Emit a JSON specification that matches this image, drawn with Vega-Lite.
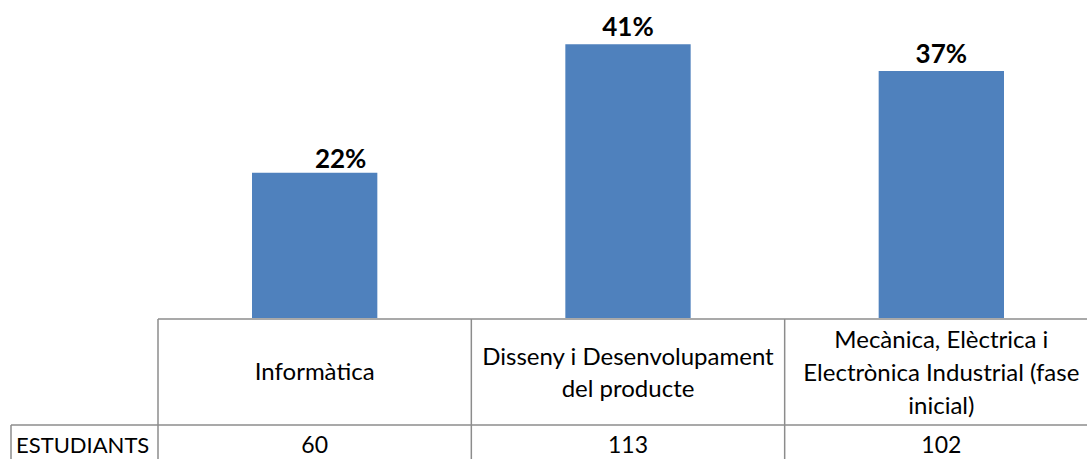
{
  "$schema": "https://vega.github.io/schema/vega-lite/v6.json",
  "width": 1087,
  "height": 459,
  "autosize": {"type": "none"},
  "padding": 0,
  "background": "white",
  "config": {"view": {"stroke": null}, "font": "Lato"},
  "data": {"values": [
    {"cat": "Informàtica", "label": "Informàtica", "pct": 0.2182, "students": 60},
    {"cat": "Disseny", "label": "Disseny i Desenvolupament\ndel producte", "pct": 0.4109, "students": 113},
    {"cat": "Mecànica", "label": "Mecànica, Elèctrica i\nElectrònica Industrial (fase\ninicial)", "pct": 0.3709, "students": 102}
  ]},
  "layer": [
    {
      "mark": {"type": "bar", "color": "#4F81BD", "width": {"band": 0.4}},
      "encoding": {
        "x": {"field": "cat", "type": "nominal", "sort": null, "scale": {"range": [158, 1098], "paddingInner": 0, "paddingOuter": 0}, "axis": null},
        "y": {"field": "pct", "type": "quantitative", "scale": {"domain": [0, 0.45], "range": [318, 18.3]}, "axis": null}
      }
    },
    {
      "transform": [{"filter": "datum.cat !== 'Informàtica'"}],
      "mark": {"type": "text", "fontWeight": "bold", "fontSize": 26, "baseline": "alphabetic", "dy": -8, "color": "black"},
      "encoding": {
        "x": {"field": "cat", "type": "nominal", "sort": null},
        "y": {"field": "pct", "type": "quantitative"},
        "text": {"field": "pct", "type": "quantitative", "format": ".0%"}
      }
    },
    {
      "transform": [{"filter": "datum.cat === 'Informàtica'"}],
      "mark": {"type": "text", "fontWeight": "bold", "fontSize": 26, "baseline": "alphabetic", "dy": -5, "dx": 26, "color": "black"},
      "encoding": {
        "x": {"field": "cat", "type": "nominal", "sort": null},
        "y": {"field": "pct", "type": "quantitative"},
        "text": {"field": "pct", "type": "quantitative", "format": ".0%"}
      }
    },
    {
      "mark": {"type": "rule", "color": "#8c8c8c", "strokeWidth": 1.5},
      "encoding": {
        "x": {"field": "cat", "type": "nominal", "sort": null, "bandPosition": 0},
        "y": {"value": 319},
        "y2": {"value": 460}
      }
    },
    {
      "data": {"values": [{"row": "top"}]},
      "mark": {"type": "rule", "color": "#8c8c8c", "strokeWidth": 1.5},
      "encoding": {"x": {"value": 158}, "x2": {"value": 1087}, "y": {"value": 319}}
    },
    {
      "data": {"values": [{"row": "mid"}]},
      "mark": {"type": "rule", "color": "#8c8c8c", "strokeWidth": 1.5},
      "encoding": {"x": {"value": 11}, "x2": {"value": 1087}, "y": {"value": 425}}
    },
    {
      "data": {"values": [{"row": "left"}]},
      "mark": {"type": "rule", "color": "#8c8c8c", "strokeWidth": 1.5},
      "encoding": {"x": {"value": 11}, "y": {"value": 425}, "y2": {"value": 460}}
    },
    {
      "transform": [{"filter": "datum.cat === 'Informàtica'"}],
      "mark": {"type": "text", "fontSize": 24, "baseline": "alphabetic", "lineBreak": "\n", "lineHeight": 32, "color": "black"},
      "encoding": {
        "x": {"field": "cat", "type": "nominal", "sort": null},
        "y": {"value": 380},
        "text": {"field": "label"}
      }
    },
    {
      "transform": [{"filter": "datum.cat === 'Disseny'"}],
      "mark": {"type": "text", "fontSize": 24, "baseline": "alphabetic", "lineBreak": "\n", "lineHeight": 32, "color": "black"},
      "encoding": {
        "x": {"field": "cat", "type": "nominal", "sort": null},
        "y": {"value": 365},
        "text": {"field": "label"}
      }
    },
    {
      "transform": [{"filter": "datum.cat === 'Mecànica'"}],
      "mark": {"type": "text", "fontSize": 24, "baseline": "alphabetic", "lineBreak": "\n", "lineHeight": 33, "color": "black"},
      "encoding": {
        "x": {"field": "cat", "type": "nominal", "sort": null},
        "y": {"value": 348},
        "text": {"field": "label"}
      }
    },
    {
      "mark": {"type": "text", "fontSize": 23, "baseline": "alphabetic", "color": "black"},
      "encoding": {
        "x": {"field": "cat", "type": "nominal", "sort": null},
        "y": {"value": 453},
        "text": {"field": "students", "type": "quantitative"}
      }
    },
    {
      "data": {"values": [{"t": "ESTUDIANTS"}]},
      "mark": {"type": "text", "fontSize": 22, "baseline": "alphabetic", "align": "left", "color": "black"},
      "encoding": {"x": {"value": 16}, "y": {"value": 453}, "text": {"field": "t"}}
    }
  ]
}
